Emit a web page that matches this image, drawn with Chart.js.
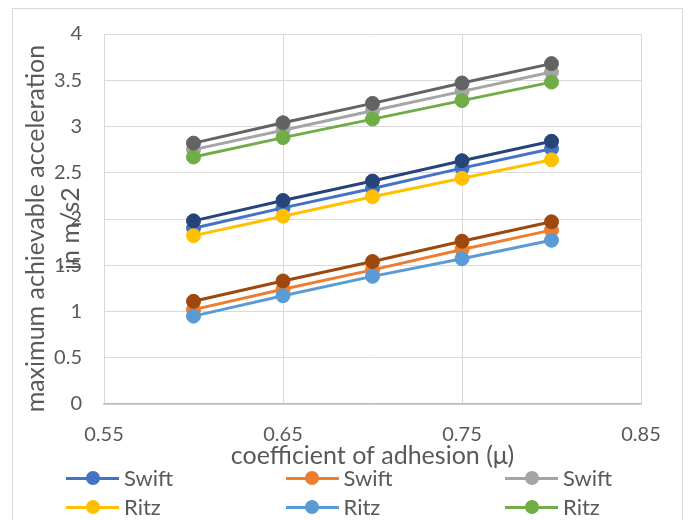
<!DOCTYPE html>
<html>
<head>
<meta charset="utf-8">
<script src="https://cdn.jsdelivr.net/npm/chart.js@4/dist/chart.umd.min.js"></script>
<style>
  html, body { margin: 0; padding: 0; background: #fff; }
  #wrap { position: relative; width: 688px; height: 520px; overflow: hidden; }
  #frame { position: absolute; left: 12px; top: 8px; width: 671px; height: 600px; border: 1px solid #D9D9D9; box-sizing: border-box; }
  #chart { position: absolute; left: 0; top: 0; }
  .lg { position: absolute; height: 26px; font-family: Lato, sans-serif; font-size: 22px; color: #595959; line-height: 26px; }
  .lg .ln { position: absolute; left: 0; top: 11.5px; width: 53px; height: 3px; }
  .lg .dot { position: absolute; left: 19.5px; top: 6px; width: 14px; height: 14px; border-radius: 50%; }
  .lg .tx { position: absolute; left: 58px; top: 0; white-space: nowrap; }
</style>
</head>
<body>
<div id="wrap">
  <div id="frame"></div>
  <canvas id="chart" width="688" height="520"></canvas>
</div>
<script>
// coefficient of adhesion values
const mu = [0.6, 0.65, 0.7, 0.75, 0.8];

// maximum achievable acceleration (m/s2) per series
const swiftA = [1.90, 2.12, 2.33, 2.55, 2.76];
const swiftB = [1.02, 1.24, 1.45, 1.67, 1.88];
const swiftC = [2.75, 2.96, 3.17, 3.38, 3.59];
const ritzA  = [1.82, 2.03, 2.24, 2.44, 2.64];
const ritzB  = [0.95, 1.17, 1.38, 1.57, 1.77];
const ritzC  = [2.67, 2.88, 3.08, 3.28, 3.48];
const seriesG = [1.98, 2.20, 2.41, 2.63, 2.84];
const seriesH = [1.11, 1.33, 1.54, 1.76, 1.97];
const seriesI = [2.82, 3.04, 3.25, 3.47, 3.68];

const seriesNames = ['Swift', 'Swift', 'Swift', 'Ritz', 'Ritz', 'Ritz', 'Series7', 'Series8', 'Series9'];
const seriesValues = [swiftA, swiftB, swiftC, ritzA, ritzB, ritzC, seriesG, seriesH, seriesI];
const seriesColors = ['#4472C4', '#ED7D31', '#A5A5A5', '#FFC000', '#5B9BD5', '#70AD47', '#264478', '#9E480E', '#636363'];

// axis tick labels
const xTickLabels = ['0.55', '0.65', '0.75', '0.85'];
const yTickLabels = ['0', '0.5', '1', '1.5', '2', '2.5', '3', '3.5', '4'];

const xTitle = 'coefficient of adhesion (\u03bc)';
// trailing spaces nudge the rotated title slightly toward the bottom
const yTitle = ['maximum achievable acceleration\u00a0\u00a0\u00a0', 'in m/s2\u00a0\u00a0\u00a0'];
const legendCount = 6;

const xTickValues = xTickLabels.map(Number);
const yTickValues = yTickLabels.map(Number);
const textColor = '#595959';
const fontFamily = 'Lato, sans-serif';

const datasets = seriesValues.map((vals, i) => ({
  label: seriesNames[i],
  data: vals.map((v, j) => ({ x: mu[j], y: v })),
  borderColor: seriesColors[i],
  backgroundColor: seriesColors[i],
  pointBackgroundColor: seriesColors[i],
  pointBorderColor: seriesColors[i],
  borderWidth: 3,
  pointRadius: 7,
  pointBorderWidth: 1,
  pointHoverRadius: 7,
  order: seriesValues.length - i,
  tension: 0
}));

new Chart(document.getElementById('chart'), {
  type: 'line',
  data: { datasets },
  options: {
    responsive: false,
    animation: false,
    layout: { padding: { left: 0, top: 33, right: 47, bottom: 0 } },
    plugins: { legend: { display: false }, tooltip: { enabled: false } },
    scales: {
      x: {
        type: 'linear',
        min: xTickValues[0],
        max: xTickValues[xTickValues.length - 1],
        afterBuildTicks: s => { s.ticks = xTickValues.map(v => ({ value: v })); },
        afterFit: s => { s.height = 116; },
        grid: { color: '#D9D9D9', lineWidth: 1, drawTicks: false },
        border: { color: '#BFBFBF', width: 1.5 },
        ticks: {
          padding: 19,
          color: textColor,
          font: { family: fontFamily, size: 20, lineHeight: 1.2 },
          callback: (v) => xTickLabels[xTickValues.indexOf(v)] ?? ''
        },
        title: {
          display: true,
          text: xTitle,
          color: textColor,
          font: { family: fontFamily, size: 25, lineHeight: 1.2 },
          padding: { top: 0, bottom: 49 }
        }
      },
      y: {
        min: yTickValues[0],
        max: yTickValues[yTickValues.length - 1],
        afterBuildTicks: s => { s.ticks = yTickValues.map(v => ({ value: v })); },
        afterFit: s => { s.width = 104; },
        grid: { color: '#D9D9D9', lineWidth: 1, drawTicks: false },
        border: { display: false },
        ticks: {
          padding: 22,
          color: textColor,
          font: { family: fontFamily, size: 20, lineHeight: 1.2 },
          callback: (v) => yTickLabels[yTickValues.indexOf(v)] ?? ''
        },
        title: {
          display: true,
          text: yTitle,
          color: textColor,
          font: { family: fontFamily, size: 25, lineHeight: 1.4 },
          padding: { top: 18.5, bottom: 0 }
        }
      }
    }
  }
});

// legend: three columns, two rows
const wrap = document.getElementById('wrap');
const colX = [66, 285.5, 505];
const rowY = [465, 494];
for (let i = 0; i < legendCount; i++) {
  const item = document.createElement('div');
  item.className = 'lg';
  item.style.left = colX[i % 3] + 'px';
  item.style.top = rowY[Math.floor(i / 3)] + 'px';
  const ln = document.createElement('div');
  ln.className = 'ln';
  ln.style.background = seriesColors[i];
  const dot = document.createElement('div');
  dot.className = 'dot';
  dot.style.background = seriesColors[i];
  const tx = document.createElement('span');
  tx.className = 'tx';
  tx.textContent = seriesNames[i];
  item.append(ln, dot, tx);
  wrap.appendChild(item);
}
</script>
</body>
</html>
